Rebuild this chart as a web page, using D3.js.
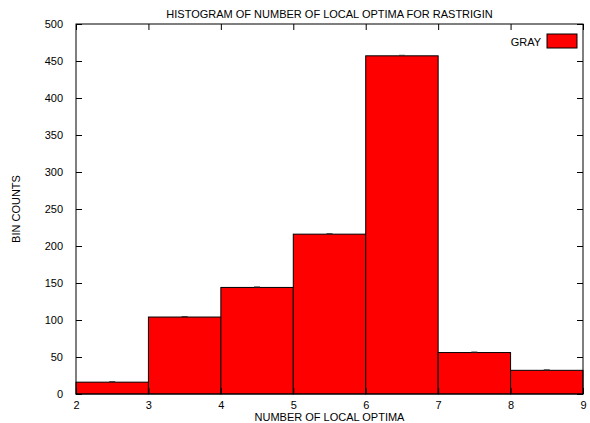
<!DOCTYPE html>
<html>
<head>
<meta charset="utf-8">
<script src="https://cdn.jsdelivr.net/npm/d3@7"></script>
<style>
  body { margin: 0; background: #fff; }
  text { font-family: "Liberation Sans", Arial, sans-serif; font-size: 11px; fill: #000; }
</style>
</head>
<body>
<svg width="590" height="423"></svg>
<script>
// bins of the histogram
const binStart = [2, 3, 4, 5, 6, 7, 8];
const binEnd = [3, 4, 5, 6, 7, 8, 9];
const counts = [16, 104, 144, 216, 457, 56, 32];
const xTicks = [2, 3, 4, 5, 6, 7, 8, 9];
const yTicks = [0, 50, 100, 150, 200, 250, 300, 350, 400, 450, 500];
const seriesName = "GRAY";

const margin = { top: 24, right: 7, bottom: 29, left: 76 };
const width = 590 - margin.left - margin.right;
const height = 423 - margin.top - margin.bottom;

const svg = d3.select("svg");
const g = svg.append("g").attr("transform", `translate(${margin.left},${margin.top})`);

const x = d3.scaleLinear().domain([2, 9]).range([0, width]);
const y = d3.scaleLinear().domain([0, 500]).range([height, 0]);

const data = counts.map((c, i) => ({ x0: binStart[i], x1: binEnd[i], v: c }));

// bars
g.selectAll("rect.bar")
  .data(data)
  .join("rect")
  .attr("class", "bar")
  .attr("x", d => x(d.x0))
  .attr("y", d => y(d.v))
  .attr("width", d => x(d.x1) - x(d.x0))
  .attr("height", d => y(0) - y(d.v))
  .style("fill", "#ff0000")
  .style("stroke", "#000")
  .style("stroke-width", 1);

// tiny marks at bar tops
g.selectAll("line.err")
  .data(data)
  .join("line")
  .attr("class", "err")
  .attr("x1", d => x((d.x0 + d.x1) / 2) - 3)
  .attr("x2", d => x((d.x0 + d.x1) / 2) + 3)
  .attr("y1", d => y(d.v) - 0.5)
  .attr("y2", d => y(d.v) - 0.5)
  .style("stroke", "#333")
  .style("stroke-width", 1);

// axes, ticks inward on all sides
const tl = 6;
g.append("g")
  .attr("transform", `translate(0,${height})`)
  .call(d3.axisBottom(x).tickValues(xTicks).tickSizeInner(-tl).tickSizeOuter(0).tickPadding(7).tickFormat(d3.format("d")))
  .call(a => a.select(".domain").remove());
g.append("g")
  .call(d3.axisTop(x).tickValues(xTicks).tickSizeInner(-tl).tickSizeOuter(0).tickFormat(""))
  .call(a => a.select(".domain").remove());
g.append("g")
  .call(d3.axisLeft(y).tickValues(yTicks).tickSizeInner(-tl).tickSizeOuter(0).tickPadding(13).tickFormat(d3.format("d")))
  .call(a => a.select(".domain").remove());
g.append("g")
  .attr("transform", `translate(${width},0)`)
  .call(d3.axisRight(y).tickValues(yTicks).tickSizeInner(-tl).tickSizeOuter(0).tickFormat(""))
  .call(a => a.select(".domain").remove());

g.selectAll(".tick text").style("font-family", "Liberation Sans, Arial, sans-serif").style("font-size", "11px").attr("fill", "#000");
g.selectAll(".tick line").attr("stroke", "#000");

// frame
g.append("rect")
  .attr("width", width).attr("height", height)
  .style("fill", "none").style("stroke", "#000").style("stroke-width", 1);

// legend
g.append("text")
  .attr("x", width - 42).attr("y", 22)
  .attr("text-anchor", "end")
  .text(seriesName);
g.append("rect")
  .attr("x", width - 36).attr("y", 10)
  .attr("width", 30).attr("height", 14)
  .style("fill", "#ff0000").style("stroke", "#000");

// titles
svg.append("text")
  .attr("x", margin.left + width / 2).attr("y", 18)
  .attr("text-anchor", "middle")
  .text("HISTOGRAM OF NUMBER OF LOCAL OPTIMA FOR RASTRIGIN");
svg.append("text")
  .attr("x", margin.left + width / 2).attr("y", 421)
  .attr("text-anchor", "middle")
  .text("NUMBER OF LOCAL OPTIMA");
svg.append("text")
  .attr("transform", `translate(20,${margin.top + height / 2}) rotate(-90)`)
  .attr("text-anchor", "middle")
  .text("BIN COUNTS");
</script>
</body>
</html>
